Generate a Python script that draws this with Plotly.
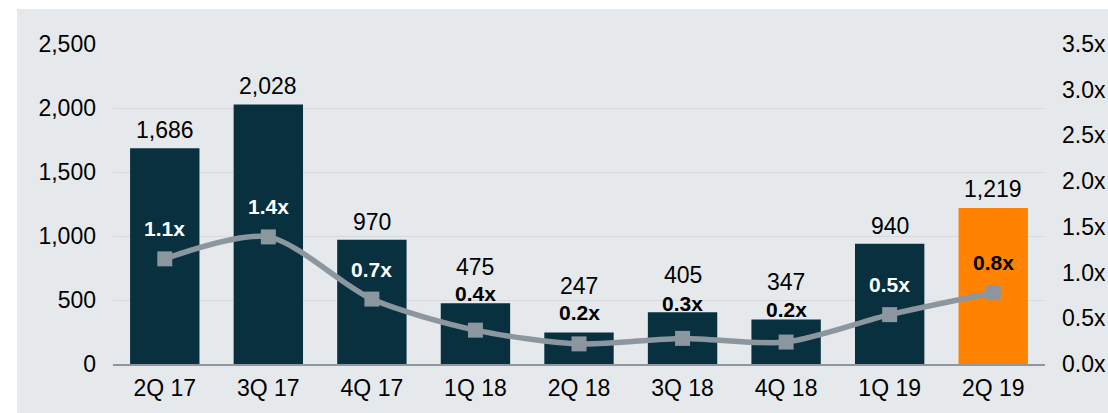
import plotly.graph_objects as go

quarters = ['2Q 17', '3Q 17', '4Q 17', '1Q 18', '2Q 18', '3Q 18', '4Q 18', '1Q 19', '2Q 19']
volumes = [1686, 2028, 970, 475, 247, 405, 347, 940, 1219]
ratios = [1.15, 1.39, 0.71, 0.37, 0.22, 0.28, 0.24, 0.54, 0.78]
ratio_labels = ['1.1x', '1.4x', '0.7x', '0.4x', '0.2x', '0.3x', '0.2x', '0.5x', '0.8x']

NAVY = '#08303f'
ORANGE = '#ff8200'
LINE_GREY = '#8b969e'
FONT = 'Liberation Sans, Arial, sans-serif'

bar_colors = [NAVY] * (len(quarters) - 1) + [ORANGE]
# label colours / pixel offsets (white when the ratio sits on a navy bar;
# on the short bars the ratio goes just above the bar and the volume above that)
label_colors = ['white', 'white', 'white', 'black', 'black', 'black', 'black', 'white', 'black']
ratio_shift = [30, 30, 30, 37, 31, 35, 33, 30, 30]
value_shift = [18, 18, 18, 36, 46, 37, 38, 18, 19]

fig = go.Figure()
fig.add_trace(go.Bar(x=quarters, y=volumes, marker_color=bar_colors,
                     marker_line_width=0, width=0.67, yaxis='y'))
fig.add_trace(go.Scatter(x=quarters, y=ratios, yaxis='y2', mode='lines+markers',
                         line=dict(color=LINE_GREY, width=5.5, shape='spline', smoothing=0.8),
                         marker=dict(symbol='square', size=15, color=LINE_GREY)))

annotations = []
for q, v, s in zip(quarters, volumes, value_shift):
    annotations.append(dict(x=q, y=v, xref='x', yref='y', text=f'{v:,}', showarrow=False,
                            yanchor='middle', yshift=s,
                            font=dict(family=FONT, size=23, color='black')))
for q, r, t, c, s in zip(quarters, ratios, ratio_labels, label_colors, ratio_shift):
    annotations.append(dict(x=q, y=r, xref='x', yref='y2', text=f'<b>{t}</b>', showarrow=False,
                            yanchor='middle', yshift=s,
                            font=dict(family=FONT, size=21, color=c)))

fig.update_layout(
    width=1108, height=413,
    margin=dict(l=113, r=63, t=44, b=49, autoexpand=False),
    paper_bgcolor='white',
    plot_bgcolor='rgba(0,0,0,0)',
    showlegend=False,
    font=dict(family=FONT, size=23, color='black'),
    xaxis=dict(range=[-0.5, len(quarters) - 0.5], showgrid=False, showline=True,
               linecolor='#8d979f', linewidth=2,
               ticks='', ticklabelstandoff=2, tickfont=dict(size=23), automargin=False),
    yaxis=dict(range=[0, 2500], dtick=500, tickformat=',d', showgrid=True,
               gridcolor='#d6dade', gridwidth=1, zeroline=False, ticks='',
               ticklabelstandoff=16, tickfont=dict(size=23), automargin=False),
    yaxis2=dict(range=[0, 3.5], dtick=0.5, tickformat='.1f', ticksuffix='x',
                overlaying='y', side='right', showgrid=False, zeroline=False,
                ticks='', ticklabelstandoff=16, tickfont=dict(size=23), automargin=False),
    annotations=annotations,
    shapes=[dict(type='rect', xref='paper', yref='paper', layer='below',
                 x0=(17 - 113) / 932, x1=(1108 - 113) / 932,
                 y0=-(413 - 364) / 320, y1=(364 - 9) / 320,
                 fillcolor='#e6e9ec', line_width=0)],
)

fig.write_html('out.html', config={'displayModeBar': False},
               post_script="document.body.style.margin='0';")
